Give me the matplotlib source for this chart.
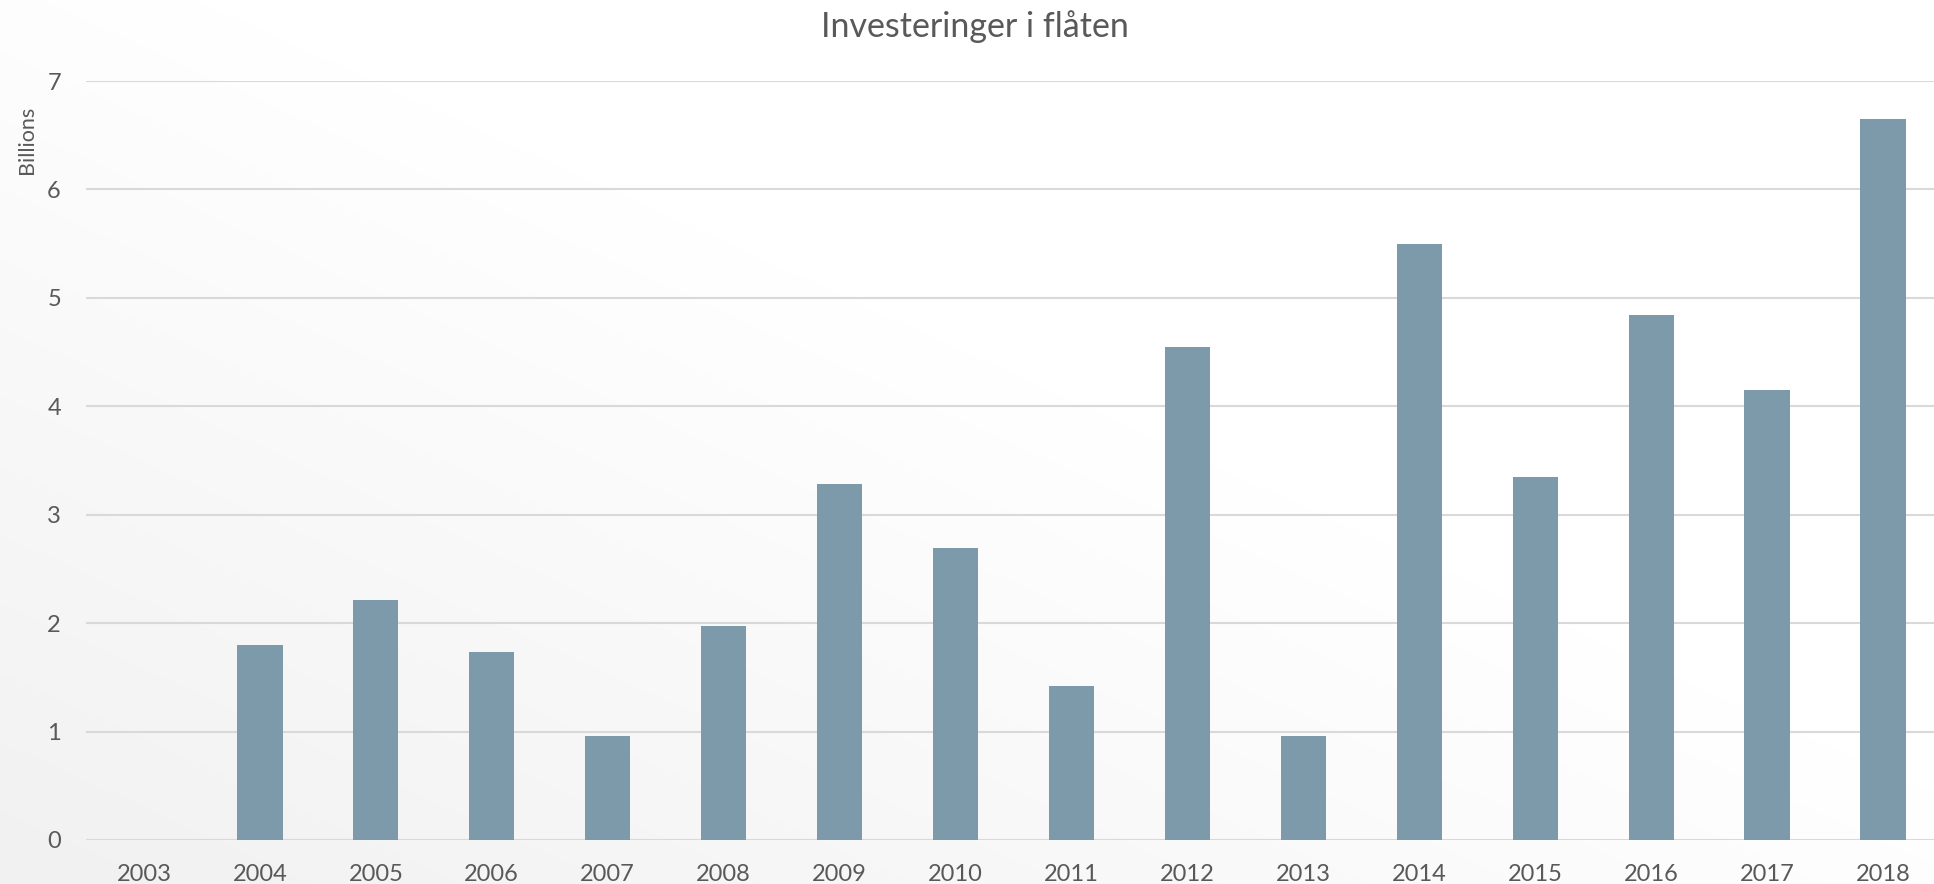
import numpy as np
import matplotlib
matplotlib.use('Agg')
import matplotlib.pyplot as plt

# data (billions)
years = ['2003', '2004', '2005', '2006', '2007', '2008', '2009', '2010',
         '2011', '2012', '2013', '2014', '2015', '2016', '2017', '2018']
values = [0, 1.80, 2.21, 1.73, 0.96, 1.97, 3.28, 2.69,
          1.42, 4.55, 0.96, 5.50, 3.35, 4.84, 4.15, 6.65]

plt.rcParams['font.family'] = ['Lato', 'DejaVu Sans']
text_col = '#595959'

fig = plt.figure(figsize=(19.34, 8.84), dpi=100)

# soft diagonal background, light grey bottom-left to white top-right
bg = fig.add_axes([0, 0, 1, 1])
gx, gy = np.meshgrid(np.linspace(0, 1, 300), np.linspace(0, 1, 300))
t = np.clip((gx + gy) / 1.1, 0, 1)
shade = 0.945 + (1.0 - 0.945) * t
img = np.dstack([shade, shade, shade])
bg.imshow(img, extent=[0, 1, 0, 1], aspect='auto', origin='lower')
bg.axis('off')

ax = fig.add_axes([86 / 1934, 1 - 840 / 884, (1941 - 86) / 1934, (840 - 81) / 884])
ax.patch.set_alpha(0)
x = np.arange(len(years))
ax.bar(x, values, width=0.39, color='#7d9aab', zorder=3)

ax.set_xlim(-0.5, len(years) - 0.5)
ax.set_ylim(0, 7)
ax.set_yticks(range(8))
ax.set_xticks(x)
ax.set_xticklabels(years)
ax.grid(axis='y', color='#d9d9d9', linewidth=1.5, zorder=0)
ax.tick_params(length=0, labelsize=17, labelcolor=text_col)
ax.tick_params(axis='x', pad=17)
ax.tick_params(axis='y', pad=18)
for s in ax.spines.values():
    s.set_visible(False)

fig.text(27 / 1934, 1 - 140 / 884, 'Billions', rotation=90, ha='center', va='center',
         fontsize=15.5, color=text_col)
fig.text(975 / 1934, 1 - 27 / 884, 'Investeringer i flåten', ha='center', va='center',
         fontsize=24.5, color=text_col)

fig.savefig('out.png', dpi=100)
